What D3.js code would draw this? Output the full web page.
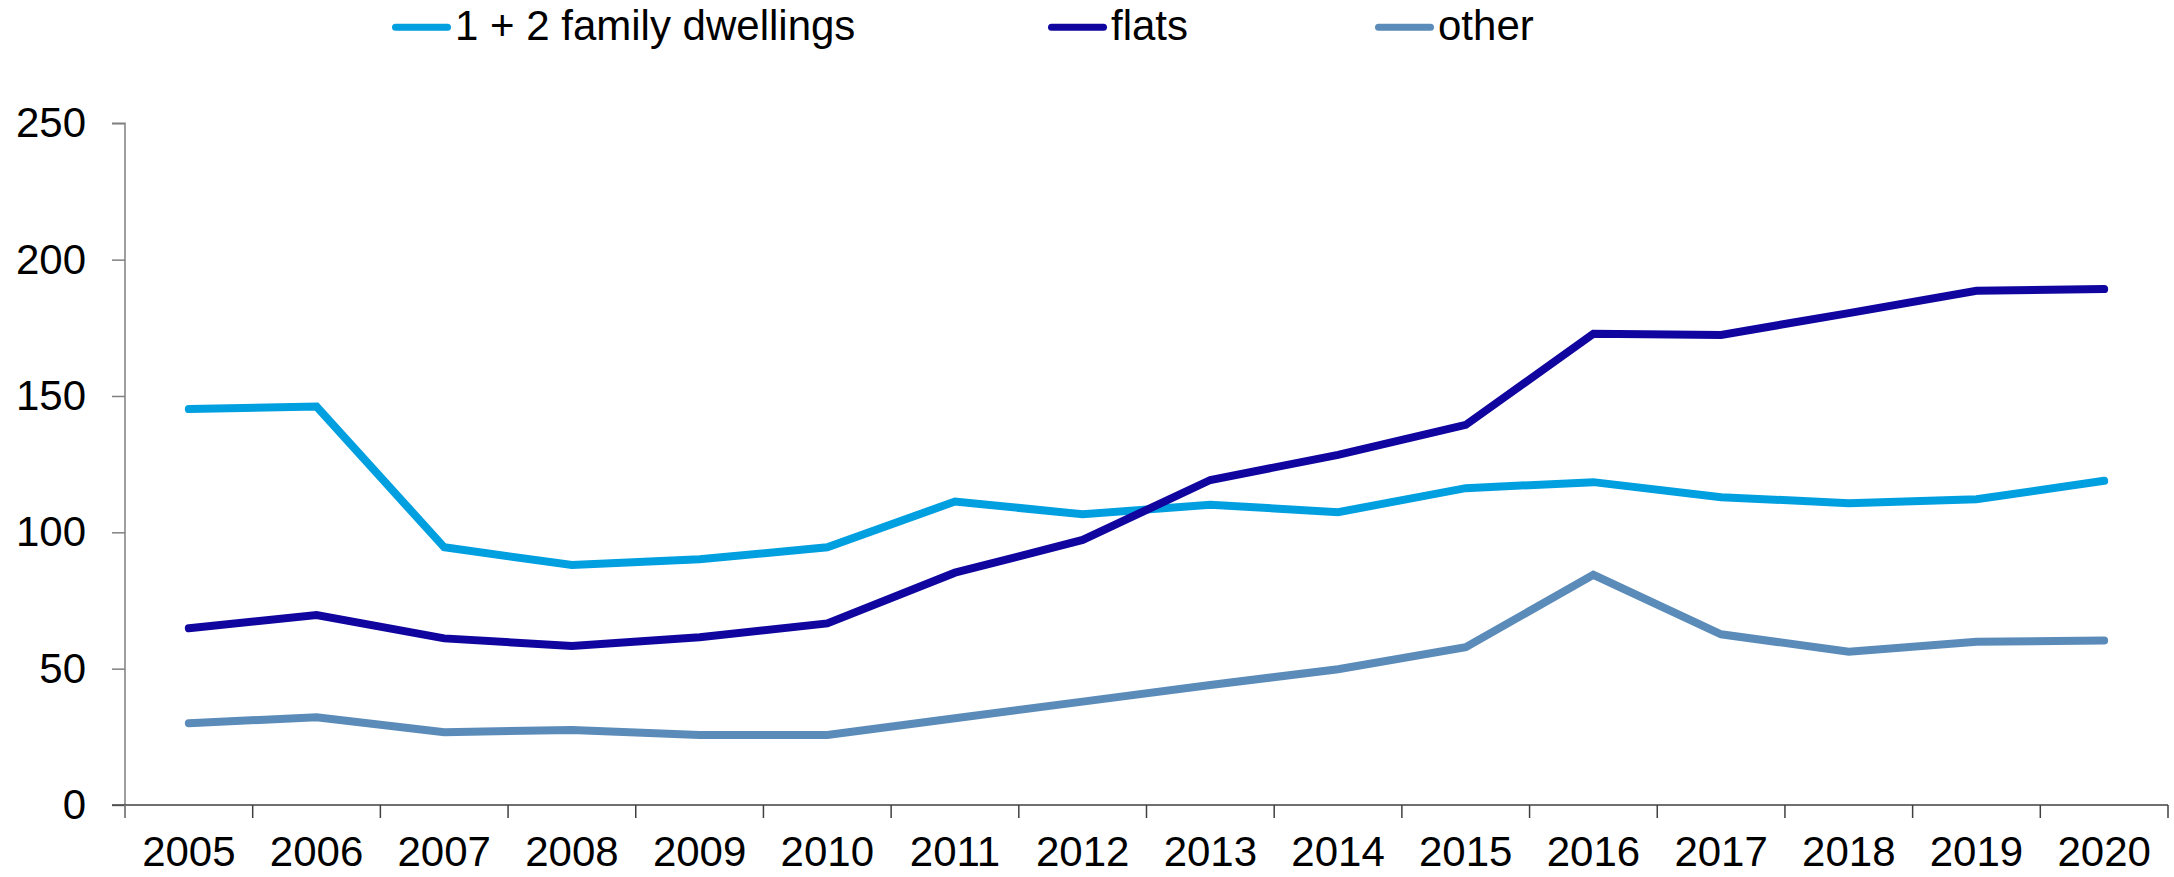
<!DOCTYPE html>
<html>
<head>
<meta charset="utf-8">
<script src="https://cdn.jsdelivr.net/npm/d3@7"></script>
<style>
  body { margin: 0; overflow: hidden; background: #fff; }
  text { font-family: "Liberation Sans", Arial, sans-serif; fill: #000; }
</style>
</head>
<body>
<script>
//Data
var years = ["2005", "2006", "2007", "2008", "2009", "2010", "2011", "2012",
             "2013", "2014", "2015", "2016", "2017", "2018", "2019", "2020"];

var family = [145.2, 146.1, 94.5, 88.0, 90.1, 94.5, 111.3, 106.6,
              110.1, 107.4, 116.2, 118.4, 112.9, 110.7, 112.1, 118.9];

var flats = [64.8, 69.7, 61.1, 58.3, 61.5, 66.6, 85.2, 97.2,
             119.2, 128.4, 139.4, 172.8, 172.4, 180.4, 188.6, 189.2];

var other = [30.0, 32.2, 26.7, 27.5, 25.7, 25.7, 31.8, 37.9,
             44.0, 49.8, 57.9, 84.4, 62.6, 56.2, 59.9, 60.3];

var yTicks = [0, 50, 100, 150, 200, 250];

var seriesNames = ["1 + 2 family dwellings", "flats", "other"];
var seriesColors = ["#009fdf", "#10069f", "#5b8bb9"];
var seriesValues = [family, flats, other];

var width = 2174, height = 877;

var svg = d3.select("body").append("svg")
    .attr("width", width)
    .attr("height", height);

//Scales
var x = d3.scaleBand()
    .domain(years)
    .range([125, 2168])
    .padding(0);

var y = d3.scaleLinear()
    .domain([0, 250])
    .range([805, 123.3]);

//Y axis
var yAxis = svg.append("g")
    .attr("transform", "translate(125,0)")
    .call(d3.axisLeft(y).tickValues(yTicks).tickSize(13).tickPadding(26));

yAxis.select(".domain")
    .attr("stroke", "#808080")
    .attr("stroke-width", 1.5)
    .attr("d", "M-13," + y(250) + "H0V818");
yAxis.selectAll(".tick line").attr("stroke", "#808080").attr("stroke-width", 1.5);
yAxis.selectAll(".tick text")
    .attr("font-size", 42)
    .attr("fill", "#000")
    .style("font-family", "'Liberation Sans', Arial, sans-serif");

//X axis, ticks on the band edges
var xAxisG = svg.append("g")
    .attr("transform", "translate(0," + y(0) + ")");

xAxisG.append("line")
    .attr("x1", 112).attr("x2", 2168)
    .attr("stroke", "#404040")
    .attr("stroke-width", 1.5);

var edges = years.map(function(d) { return x(d); }).concat([x.range()[1]]);

xAxisG.selectAll(".edge")
    .data(edges)
    .enter().append("line")
    .attr("class", "edge")
    .attr("x1", function(d) { return d; })
    .attr("x2", function(d) { return d; })
    .attr("y1", 0)
    .attr("y2", 13)
    .attr("stroke", function(d, i) { return i === 0 ? "#808080" : "#404040"; })
    .attr("stroke-width", 1.5);

xAxisG.selectAll(".lbl")
    .data(years)
    .enter().append("text")
    .attr("class", "lbl")
    .attr("x", function(d) { return x(d) + x.bandwidth() / 2; })
    .attr("y", 61)
    .attr("text-anchor", "middle")
    .attr("font-size", 42)
    .text(function(d) { return d; });

//Lines
var lineGenerator = d3.line()
    .x(function(d, i) { return x(years[i]) + x.bandwidth() / 2; })
    .y(function(d) { return y(d); });

svg.selectAll(".series")
    .data(seriesValues)
    .enter().append("path")
    .attr("class", "series")
    .attr("d", function(d) { return lineGenerator(d); })
    .attr("fill", "none")
    .attr("stroke", function(d, i) { return seriesColors[i]; })
    .attr("stroke-width", 8)
    .attr("stroke-linecap", "round")
    .attr("stroke-linejoin", "miter");

//Legend
var legendX = [392, 1048, 1375];

var legend = svg.selectAll(".legend")
    .data(seriesNames)
    .enter().append("g")
    .attr("class", "legend")
    .attr("transform", function(d, i) { return "translate(" + legendX[i] + ",27.3)"; });

legend.append("line")
    .attr("x1", 3.5).attr("x2", 55.5)
    .attr("stroke", function(d, i) { return seriesColors[i]; })
    .attr("stroke-width", 7)
    .attr("stroke-linecap", "round");

legend.append("text")
    .attr("x", 63)
    .attr("y", 12.7)
    .attr("font-size", 42)
    .text(function(d) { return d; });
</script>
</body>
</html>
